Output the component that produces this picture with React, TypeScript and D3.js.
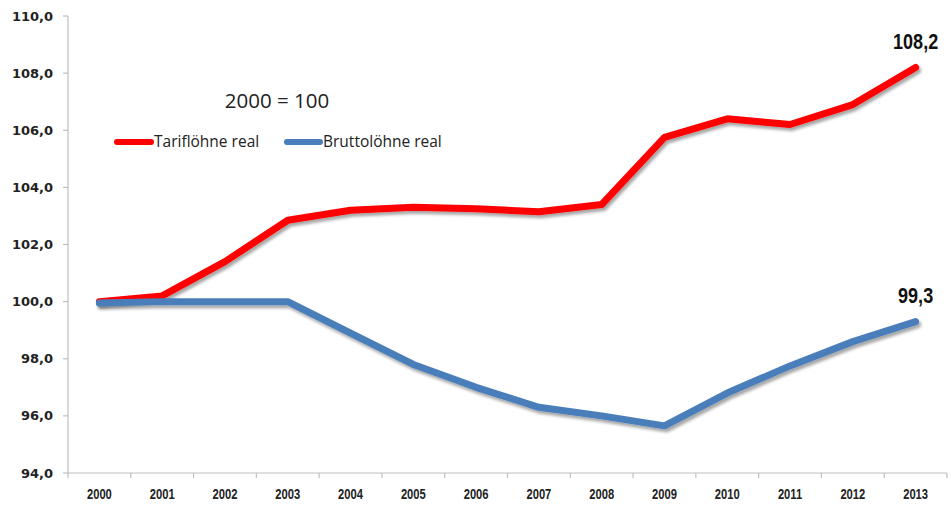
import React from "react";
import * as d3 from "d3";

const years = ["2000","2001","2002","2003","2004","2005","2006","2007","2008","2009","2010","2011","2012","2013"];
const tarif = [100.0,100.2,101.4,102.85,103.2,103.3,103.25,103.15,103.4,105.75,106.4,106.2,106.9,108.2];
const brutto = [99.95,100.0,100.0,100.0,98.9,97.8,97.0,96.3,96.0,95.65,96.8,97.75,98.6,99.3];
const yTicks = [94,96,98,100,102,104,106,108,110];

const W = 951, H = 505;
const left = 68, right = 947, top = 16, bottom = 473;

export default function App() {
  const x = d3.scaleBand<string>().domain(years).range([left, right]);
  const y = d3.scaleLinear().domain([94, 110]).range([bottom, top]);
  const cx = (i: number) => (x(years[i]) as number) + x.bandwidth() / 2;
  const line = d3.line<number>().x((_, i) => cx(i)).y(d => y(d));
  const fmt = (v: number) => v.toFixed(1).replace(".", ",");
  const axisColor = "#bfbfbf";
  const boundaries = [...years.map(yr => x(yr) as number), right];
  const lastX = cx(13);
  const narrow = "'Liberation Sans', Arial, sans-serif";
  return (
    <svg width={W} height={H} style={{ position: "absolute", left: 0, top: 0, background: "#fff" }}>
      <defs>
        <filter id="sh" x="-10%" y="-10%" width="120%" height="130%">
          <feDropShadow dx="2" dy="3" stdDeviation="1.5" floodColor="#000" floodOpacity="0.35" />
        </filter>
      </defs>
      {/* y axis */}
      <line x1={left} x2={left} y1={top} y2={bottom} stroke={axisColor} strokeWidth={1.2} />
      {yTicks.map(t => (
        <g key={t}>
          <line x1={left - 5} x2={left} y1={y(t)} y2={y(t)} stroke={axisColor} strokeWidth={1.2} />
          <text x={53} y={y(t)} dy="0.35em" textAnchor="end" fontFamily="'DejaVu Sans', Verdana, sans-serif" fontWeight="bold" fontSize={13} fill="#222">{fmt(t)}</text>
        </g>
      ))}
      {/* x axis */}
      <line x1={left} x2={right} y1={bottom} y2={bottom} stroke={axisColor} strokeWidth={1.2} />
      {boundaries.map((b, i) => (
        <line key={i} x1={b} x2={b} y1={bottom} y2={bottom + 5} stroke={axisColor} strokeWidth={1.2} />
      ))}
      {years.map((yr, i) => (
        <text key={yr} transform={`translate(${cx(i)},499) scale(0.8,1)`} textAnchor="middle" fontFamily={narrow} fontWeight="bold" fontSize={14} fill="#222">{yr}</text>
      ))}
      {/* lines */}
      <path d={line(tarif) || ""} fill="none" stroke="#ff0000" strokeWidth={7} strokeLinejoin="round" strokeLinecap="round" filter="url(#sh)" />
      <path d={line(brutto) || ""} fill="none" stroke="#4a7ebb" strokeWidth={7} strokeLinejoin="round" strokeLinecap="round" filter="url(#sh)" />
      {/* data labels */}
      <text transform={`translate(${lastX},${y(tarif[13]) - 18}) scale(0.82,1)`} textAnchor="middle" fontFamily={narrow} fontWeight="bold" fontSize={22} fill="#111">{fmt(tarif[13])}</text>
      <text transform={`translate(${lastX},${y(brutto[13]) - 19}) scale(0.82,1)`} textAnchor="middle" fontFamily={narrow} fontWeight="bold" fontSize={22} fill="#111">{fmt(brutto[13])}</text>
      {/* subtitle */}
      <text x={277} y={108} textAnchor="middle" fontFamily="'Open Sans', sans-serif" fontSize={20.5} fill="#222">2000 = 100</text>
      {/* legend */}
      <line x1={117} x2={151} y1={142} y2={142} stroke="#ff0000" strokeWidth={6} strokeLinecap="round" />
      <text x={154} y={142} dy="0.35em" fontFamily="'Open Sans', sans-serif" fontSize={15.5} fill="#222">Tariflöhne real</text>
      <line x1={287} x2={320} y1={142} y2={142} stroke="#4a7ebb" strokeWidth={6} strokeLinecap="round" />
      <text x={323} y={142} dy="0.35em" fontFamily="'Open Sans', sans-serif" fontSize={15.5} fill="#222">Bruttolöhne real</text>
    </svg>
  );
}
